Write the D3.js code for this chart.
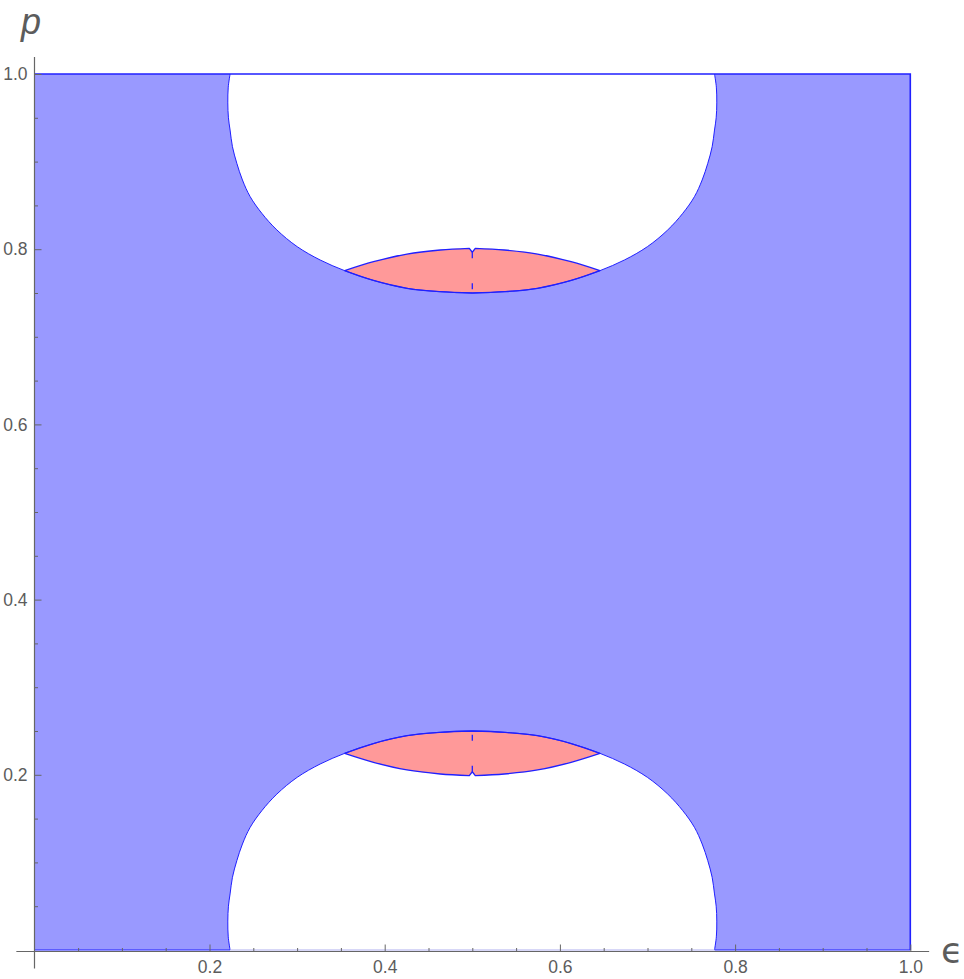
<!DOCTYPE html>
<html><head><meta charset="utf-8">
<script src="https://cdn.jsdelivr.net/npm/d3@7"></script>
<style>body{margin:0;background:#fff}</style>
</head><body>
<svg id="c" width="964" height="979"></svg>
<script>
// Upper hole boundary, left half (from p=1 down to the bottom at eps=0.5). The figure is symmetric in eps->1-eps and p->1-p.
const holeEps = [0.2235, 0.2214, 0.2209, 0.2216, 0.2235, 0.2262, 0.2312, 0.2376, 0.2464, 0.2597, 0.2769, 0.3001, 0.3263, 0.3543, 0.3872, 0.4254, 0.4634, 0.5];
const holeP   = [1.000,  0.985,  0.967,  0.950,  0.936,  0.917,  0.898,  0.879,  0.860,  0.841,  0.822,  0.8029, 0.7877, 0.7755, 0.7643, 0.7554, 0.7515, 0.750];
// Upper edge of the pink region, left half (from the tip to the center)
const pinkTopEps = [0.3543, 0.3872, 0.4254, 0.4634, 0.4966];
const pinkTopP   = [0.7755, 0.7857, 0.7945, 0.7991, 0.8010];
const notchEps = 0.5, notchP = 0.7965;
const epsMajorTicks = [0.2, 0.4, 0.6, 0.8, 1.0];
const epsMinorTicks = [0.05, 0.1, 0.15, 0.25, 0.3, 0.35, 0.45, 0.5, 0.55, 0.65, 0.7, 0.75, 0.85, 0.9, 0.95];
const pMajorTicks = [0.2, 0.4, 0.6, 0.8, 1.0];
const pMinorTicks = [0.05, 0.1, 0.15, 0.25, 0.3, 0.35, 0.45, 0.5, 0.55, 0.65, 0.7, 0.75, 0.85, 0.9, 0.95];

const svg = d3.select('#c');
const x = d3.scaleLinear().domain([0, 1]).range([34.3, 910.3]);
const y = d3.scaleLinear().domain([0, 1]).range([950, 74]);

const BLUE_FILL = '#9999ff', PINK_FILL = '#ff9999', EDGE = '#2020ff', AX = '#666666', TXT = '#5c5c5c';

const line = d3.line().x(d => x(d[0])).y(d => y(d[1])).curve(d3.curveCatmullRom.alpha(0.5));
const seg = (pts) => line(pts).replace(/^M/, 'L');

const leftHalf = holeEps.map((e, i) => [e, holeP[i]]);
const rightHalf = leftHalf.slice(0, -1).reverse().map(d => [1 - d[0], d[1]]);
const upperHole = leftHalf.concat(rightHalf);
const lowerHole = upperHole.map(d => [d[0], 1 - d[1]]);

// Blue region: unit square minus the two holes
const rectPath = `M${x(0)},${y(1)}H${x(1)}V${y(0)}H${x(0)}Z`;
svg.append('path')
  .attr('d', rectPath + line(upperHole) + 'Z' + line(lowerHole) + 'Z')
  .attr('fill', BLUE_FILL).attr('fill-rule', 'evenodd').attr('stroke', 'none');

// Pink regions
const tipIdx = holeEps.indexOf(pinkTopEps[0]);
function pinkParts(flip) {
  const f = d => flip ? [d[0], 1 - d[1]] : d;
  const topL = pinkTopEps.map((e, i) => f([e, pinkTopP[i]]));
  const topR = topL.slice().reverse().map(d => [1 - d[0], d[1]]);
  const notch = f([notchEps, notchP]);
  const botL = leftHalf.slice(tipIdx).map(f);            // tip -> center
  const botR = botL.slice().reverse().map(d => [1 - d[0], d[1]]); // center -> right tip
  const outline = line(topL) + `L${x(notch[0])},${y(notch[1])}` + seg(topR) + seg(botR.slice().reverse()) + seg(botL.slice().reverse()) + 'Z';
  return {outline, notch, center: botL[botL.length - 1]};
}
[false, true].forEach(flip => {
  const p = pinkParts(flip);
  svg.append('path').attr('d', p.outline).attr('fill', PINK_FILL).attr('stroke', EDGE).attr('stroke-width', 1.3).attr('stroke-linejoin', 'round');
  svg.append('line')
    .attr('x1', x(p.notch[0])).attr('x2', x(p.center[0]))
    .attr('y1', y(p.notch[1])).attr('y2', y(p.center[1]))
    .attr('stroke', EDGE).attr('stroke-width', 1.3).attr('stroke-dasharray', '6,25');
});

// Boundary strokes
svg.append('path').attr('d', line(upperHole)).attr('fill', 'none').attr('stroke', EDGE).attr('stroke-width', 1);
svg.append('path').attr('d', line(lowerHole)).attr('fill', 'none').attr('stroke', EDGE).attr('stroke-width', 1);
svg.append('path').attr('d', `M${x(0)},${y(1)}H${x(1)}V${y(0)}`).attr('fill', 'none').attr('stroke', EDGE).attr('stroke-width', 1.6);
svg.append('path').attr('d', `M${x(0)},${y(0)}H${x(lowerHole[0][0])}M${x(lowerHole[lowerHole.length-1][0])},${y(0)}H${x(1)}`)
  .attr('fill', 'none').attr('stroke', EDGE).attr('stroke-width', 1.2);
svg.append('path').attr('d', `M${x(lowerHole[0][0])},${y(0)}H${x(lowerHole[lowerHole.length-1][0])}`)
  .attr('fill', 'none').attr('stroke', '#b0b0f0').attr('stroke-width', 1.2);

// Axes
const axY0 = 951.5, axX0 = 34.5;
const gx = svg.append('g').attr('transform', `translate(0,${axY0})`);
gx.call(d3.axisBottom(x).tickValues(epsMinorTicks).tickSizeInner(-3.5).tickSizeOuter(0).tickFormat(''));
gx.call(g => g.selectAll('.domain').remove());
const gx2 = svg.append('g').attr('transform', `translate(0,${axY0})`);
gx2.call(d3.axisBottom(x).tickValues(epsMajorTicks).tickSizeInner(-7).tickSizeOuter(0).tickPadding(9).tickFormat(d3.format('.1f')));
gx2.select('.domain').remove();

const gy = svg.append('g').attr('transform', `translate(${axX0},0)`);
gy.call(d3.axisLeft(y).tickValues(pMinorTicks).tickSizeInner(-3.5).tickSizeOuter(0).tickFormat(''));
gy.select('.domain').remove();
const gy2 = svg.append('g').attr('transform', `translate(${axX0},0)`);
gy2.call(d3.axisLeft(y).tickValues(pMajorTicks).tickSizeInner(-7).tickSizeOuter(0).tickPadding(7).tickFormat(d3.format('.1f')));
gy2.select('.domain').remove();

svg.selectAll('.tick line').attr('stroke', AX).attr('stroke-width', 1);
svg.selectAll('.tick text').attr('fill', TXT).style('font-family', '"Liberation Sans", Arial, sans-serif').style('font-size', '17.5px');

svg.append('line').attr('x1', x(-0.0205)).attr('x2', x(1.0215)).attr('y1', axY0).attr('y2', axY0).attr('stroke', AX).attr('stroke-width', 1.2);
svg.append('line').attr('x1', axX0).attr('x2', axX0).attr('y1', y(1.0195)).attr('y2', y(-0.021)).attr('stroke', AX).attr('stroke-width', 1.2);

svg.append('text').attr('x', 21).attr('y', 34).text('p')
  .attr('fill', TXT).style('font-family', '"Liberation Sans", Arial, sans-serif').style('font-style', 'italic').style('font-size', '36px');
svg.append('text').attr('x', 941).attr('y', 963).text('ϵ')
  .attr('fill', TXT).style('font-family', '"DejaVu Sans", sans-serif').style('font-size', '36px');
</script>
</body></html>
